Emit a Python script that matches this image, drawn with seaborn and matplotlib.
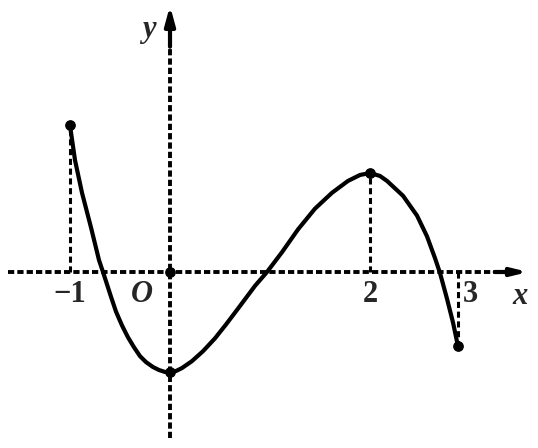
import matplotlib
matplotlib.use("Agg")
import matplotlib.pyplot as plt
import seaborn as sns
import pandas as pd

# Points
curve_x = [-1.0, -0.95, -0.88, -0.79, -0.71, -0.67, -0.59, -0.54, -0.48, -0.42,
           -0.36, -0.30, -0.24, -0.17, -0.11, -0.05, 0.0, 0.06, 0.12, 0.22,
           0.33, 0.45, 0.56, 0.68, 0.85, 0.97, 1.12, 1.28, 1.45, 1.62, 1.78,
           1.90, 2.0, 2.10, 2.17, 2.33, 2.47, 2.57, 2.65, 2.70, 2.77, 2.83, 2.88]
curve_y = [1.48, 1.13, 0.80, 0.45, 0.12, 0.0, -0.25, -0.40, -0.54, -0.66,
           -0.76, -0.85, -0.91, -0.96, -0.99, -1.01, -1.01, -1.0, -0.97, -0.90,
           -0.80, -0.67, -0.53, -0.37, -0.14, 0.0, 0.20, 0.43, 0.64, 0.80, 0.92,
           0.98, 1.0, 0.97, 0.92, 0.77, 0.57, 0.36, 0.14, -0.01, -0.27, -0.51, -0.75]

# Marked points
dot_x = [-1.0, 0.0, 0.0, 2.0, 2.88]
dot_y = [1.48, 0.0, -1.01, 1.0, -0.75]

# Dashed guide lines (x position, top/bottom y)
guide_x = [-1.0, 2.0, 2.88]
guide_y = [1.48, 1.0, -0.75]

# Tick labels
tick_vals = [-1, 2, 3]
tick_text = ["\u22121", "2", "3"]

sns.set_style("white")
plt.rcParams['font.family'] = ['Liberation Serif', 'DejaVu Serif']

fig = plt.figure(figsize=(5.38, 4.48), dpi=100)
ax = fig.add_axes([0, 0, 1, 1])
unit_x = 100.0
xmin = -170 / unit_x
xmax = (538 - 170) / unit_x
unit_y = 99.0
ymax = 272 / unit_y
ymin = -(448 - 272) / unit_y
ax.set_xlim(xmin, xmax)
ax.set_ylim(ymin, ymax)
ax.axis("off")

dash = (0, (1.6, 0.8))
# x axis
ax.plot([xmin + 0.08, 3.3], [0, 0], color="black", lw=2.8, linestyle=dash)
ax.annotate("", xy=(xmax - 0.07, 0), xytext=(3.22, 0),
            arrowprops=dict(arrowstyle="-|>,head_length=0.9,head_width=0.22",
                            color="black", lw=3))
# y axis
ax.plot([0, 0], [ymin + 0.1, ymax - 0.45], color="black", lw=2.8, linestyle=dash)
ax.annotate("", xy=(0, ymax - 0.03), xytext=(0, ymax - 0.5),
            arrowprops=dict(arrowstyle="-|>,head_length=1.1,head_width=0.3",
                            color="black", lw=3))

# guide lines
for gx, gy in zip(guide_x, guide_y):
    ax.plot([gx, gx], [0, gy], color="black", lw=2.2, linestyle=(0, (2, 1.2)))

# curve
df = pd.DataFrame({"x": curve_x, "y": curve_y})
sns.lineplot(data=df, x="x", y="y", sort=False, color="black", lw=3.0, ax=ax)
ax.scatter(dot_x, dot_y, s=45, color="black", zorder=5)
ax.axis("off")

# labels
for v, t in zip(tick_vals, tick_text):
    ax.text(v, -0.08, t, ha="center", va="top", fontsize=22,
            fontweight="bold")
ax.text(-0.28, -0.08, "O", ha="center", va="top", fontsize=22,
        fontweight="bold", style="italic")
ax.text(3.5, -0.1, "x", ha="center", va="top", fontsize=22,
        fontweight="bold", style="italic")
ax.text(-0.21, ymax - 0.15, "y", ha="center", va="top", fontsize=22,
        fontweight="bold", style="italic")

fig.savefig("out.png", dpi=100)
